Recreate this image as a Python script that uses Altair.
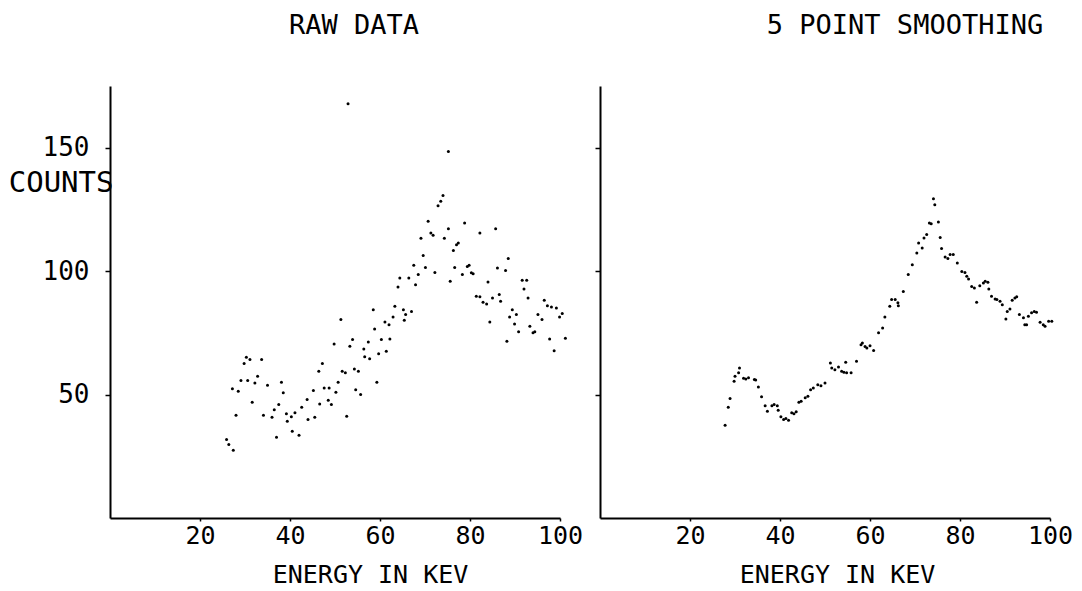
import altair as alt
import pandas as pd

FONT = "DejaVu Sans Mono"

x_ticks = [20, 40, 60, 80, 100]
y_ticks = [50, 100, 150]

raw_energy = [52.9, 75.2, 74.0, 73.5, 72.9, 70.7, 75.2, 78.8, 85.7, 82.2,
              71.3, 71.8, 69.1, 74.3, 77.4, 77.0, 76.3, 69.6, 88.5, 67.5,
              70.1, 76.6, 79.4, 79.8, 86.1, 87.9, 68.5, 72.2, 78.3, 80.3,
              80.7, 64.4, 66.4, 75.6, 84.0, 91.6, 92.6, 67.9, 64.0, 92.0,
              81.4, 82.2, 85.0, 86.5, 92.9, 82.9, 83.7, 86.8, 96.5, 97.2,
              98.1, 99.2, 100.5, 89.4, 88.8, 90.3, 89.9, 90.8, 93.3, 94.0,
              94.4, 95.1, 96.0, 99.9, 101.2, 97.7, 98.7, 88.2, 84.4, 63.3,
              65.2, 65.4, 67.0, 65.7, 62.9, 61.1, 62.0, 58.5, 58.8, 51.3,
              60.3, 62.2, 53.9, 53.3, 49.8, 57.4, 56.4, 56.6, 57.7, 61.4,
              59.7, 47.2, 46.4, 51.6, 52.3, 54.3, 55.2, 50.7, 47.6, 48.7,
              50.2, 59.3, 54.6, 55.7, 45.2, 43.8, 46.6, 48.5, 49.2, 42.6,
              52.6, 45.5, 44.0, 41.1, 40.3, 39.2, 39.4, 40.5, 42.0, 38.5,
              38.1, 37.5, 36.5, 36.0, 37.0, 35.0, 34.1, 33.7, 32.8, 32.2,
              31.6, 30.6, 30.3, 31.1, 29.8, 29.1, 28.5, 27.2, 28.0, 25.9,
              26.4, 27.4]
raw_counts = [167.8, 148.5, 130.6, 128.3, 126.5, 120.2, 117.2, 119.5, 117.2, 115.5,
              115.5, 114.5, 113.3, 113.3, 111.4, 110.7, 108.4, 106.3, 105.1, 102.4,
              101.5, 101.5, 101.9, 102.4, 101.3, 100.3, 98.6, 99.5, 98.6, 99.3,
              98.9, 97.2, 97.2, 95.9, 95.6, 96.3, 96.3, 94.5, 93.6, 92.8,
              89.8, 89.6, 89.1, 90.5, 89.1, 87.4, 86.7, 87.8, 88.2, 86.0,
              85.5, 85.1, 82.8, 84.4, 81.4, 82.4, 78.6, 75.4, 77.7, 75.0,
              75.4, 82.4, 80.4, 81.4, 72.8, 72.5, 67.8, 71.6, 79.4, 85.8,
              84.4, 80.1, 83.7, 82.4, 81.4, 79.4, 78.3, 84.4, 76.6, 80.4,
              72.3, 72.5, 72.3, 69.6, 70.5, 71.3, 68.5, 65.3, 64.5, 67.5,
              66.5, 62.6, 59.4, 59.4, 58.8, 60.4, 59.4, 55.0, 52.7, 52.7,
              50.9, 55.0, 52.0, 50.0, 51.6, 48.0, 46.2, 47.7, 46.0, 44.9,
              41.2, 40.8, 39.9, 42.6, 41.0, 42.2, 39.2, 35.1, 33.5, 50.7,
              55.0, 46.0, 43.9, 40.8, 32.7, 53.8, 41.6, 64.2, 57.4, 54.7,
              46.9, 55.7, 65.1, 64.2, 62.6, 55.7, 51.3, 52.4, 41.6, 31.8,
              29.8, 27.4]

smooth_energy = [27.8, 28.5, 28.9, 29.8, 30.0, 30.8, 31.0, 31.9, 32.4, 33.0,
                 34.3, 34.6, 35.2, 35.9, 36.7, 37.2, 38.2, 38.7, 39.4, 39.6,
                 40.2, 40.8, 41.3, 41.9, 42.6, 43.1, 43.6, 44.2, 44.7, 45.6,
                 46.2, 46.8, 47.4, 48.4, 49.1, 50.0, 51.2, 51.5, 52.2, 53.0,
                 53.7, 54.2, 54.8, 55.8, 54.6, 57.0, 58.0, 58.3, 58.9, 59.3,
                 60.0, 60.8, 61.9, 62.8, 63.3, 64.4, 64.8, 65.6, 66.2, 66.3,
                 67.4, 68.5, 69.4, 70.4, 70.8, 71.6, 72.0, 72.6, 73.2, 73.6,
                 74.1, 74.4, 75.2, 75.6, 75.9, 76.7, 77.3, 77.8, 78.5, 79.4,
                 80.4, 81.1, 81.5, 81.9, 82.6, 83.2, 83.7, 84.4, 85.2, 85.6,
                 86.2, 86.4, 87.0, 87.8, 88.2, 88.9, 89.4, 90.2, 90.5, 91.1,
                 91.6, 92.2, 92.6, 93.2, 94.1, 94.4, 94.8, 95.2, 95.9, 96.5,
                 97.0, 97.8, 98.5, 98.9, 99.7, 100.4]
smooth_counts = [37.6, 44.9, 48.4, 55.4, 57.4, 58.8, 60.8, 56.6, 56.3, 56.8,
                 56.1, 55.9, 53.1, 49.1, 45.5, 43.2, 45.5, 46.0, 45.5, 43.6,
                 41.0, 39.9, 40.3, 39.6, 42.6, 42.2, 43.0, 46.9, 47.3, 48.7,
                 49.3, 52.0, 52.7, 54.0, 53.6, 54.7, 62.8, 60.8, 60.1, 61.2,
                 59.4, 59.0, 58.8, 58.8, 63.1, 63.5, 70.2, 70.9, 69.5, 68.9,
                 69.8, 67.9, 75.0, 77.0, 81.4, 85.8, 88.5, 88.5, 87.2, 86.0,
                 91.8, 98.6, 102.6, 107.4, 111.4, 109.4, 113.4, 114.8, 119.5, 119.2,
                 129.3, 126.9, 119.9, 113.6, 109.2, 105.7, 105.1, 106.7, 106.7, 103.3,
                 99.9, 99.5, 97.9, 96.8, 93.8, 93.2, 87.4, 94.1, 95.2, 95.9,
                 95.5, 92.8, 89.8, 88.7, 88.5, 87.8, 86.4, 80.6, 83.7, 84.7,
                 88.2, 89.1, 89.6, 82.4, 81.1, 78.3, 78.3, 81.7, 83.1, 83.7,
                 83.3, 79.3, 78.3, 77.7, 79.7, 79.7]

raw_df = pd.DataFrame({"energy": raw_energy, "counts": raw_counts})
smooth_df = pd.DataFrame({"energy": smooth_energy, "counts": smooth_counts})

W, H = 450, 432


def panel(df, title, title_dx, left, xtitle_x):
    x_axis = alt.Axis(values=x_ticks, title="ENERGY IN KEV", grid=False,
                      domainColor="black", domainWidth=2, tickColor="black",
                      tickSize=3, tickWidth=1.5,
                      labelFont=FONT, labelFontSize=25, labelColor="black",
                      labelPadding=2, labelFlush=False, labelOverlap=False,
                      titleFont=FONT, titleFontSize=25, titleFontWeight="normal",
                      titleColor="black", titlePadding=14, titleX=xtitle_x)
    if left:
        y_axis = alt.Axis(values=y_ticks, title="COUNTS", grid=False,
                          domainColor="black", domainWidth=2, tickColor="black",
                          tickSize=5, tickWidth=1.5,
                          labelFont=FONT, labelFontSize=26, labelColor="black",
                          labelPadding=16,
                          titleFont=FONT, titleFontSize=29, titleFontWeight="normal",
                          titleColor="black", titleAngle=0, titleAlign="right",
                          titleBaseline="middle", titleX=3, titleY=96)
    else:
        y_axis = alt.Axis(values=y_ticks, title=None, grid=False, labels=False,
                          domainColor="black", domainWidth=2, tickColor="black",
                          tickSize=5, tickWidth=1.5)
    return (
        alt.Chart(df)
        .mark_circle(size=9, color="black", opacity=1)
        .encode(
            x=alt.X("energy:Q", scale=alt.Scale(domain=[0, 100], nice=False, zero=False),
                    axis=x_axis),
            y=alt.Y("counts:Q", scale=alt.Scale(domain=[0, 175], nice=False, zero=False),
                    axis=y_axis),
        )
        .properties(
            width=W, height=H,
            title=alt.TitleParams(text=title, font=FONT, fontSize=27,
                                  fontWeight="normal", color="black",
                                  anchor="middle", dx=title_dx, offset=46),
        )
    )


left_chart = panel(raw_df, "RAW DATA", 19, True, 260)
right_chart = panel(smooth_df, "5 POINT SMOOTHING", 80, False, 237)

chart = (
    alt.hconcat(left_chart, right_chart, spacing=40, bounds="flush")
    .properties(padding={"left": 8, "top": 12, "right": 5, "bottom": 5},
                background="white")
    .configure_view(strokeWidth=0)
)

chart.save("out.html", embed_options={"renderer": "svg", "actions": False})
